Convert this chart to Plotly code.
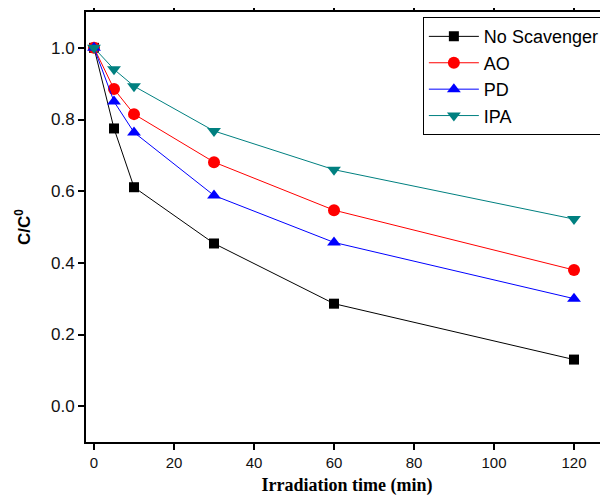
import plotly.graph_objects as go

# irradiation time (min)
time_min = [0, 5, 10, 30, 60, 120]

# C/C0 for each scavenger run
no_scavenger = [1.0, 0.775, 0.611, 0.454, 0.286, 0.130]
ao = [1.0, 0.885, 0.815, 0.681, 0.547, 0.380]
pd_vals = [1.0, 0.850, 0.764, 0.588, 0.457, 0.300]
ipa = [1.0, 0.940, 0.893, 0.768, 0.660, 0.522]

series_names = ["No Scavenger", "AO", "PD", "IPA"]
series_vals = [no_scavenger, ao, pd_vals, ipa]
colors = ["#000000", "#ff0000", "#0000ff", "#008080"]
symbols = ["square", "circle", "triangle-up", "triangle-down"]
sizes = [10, 12, 12, 12]

fig = go.Figure()

for name, vals, c, sym, sz in zip(series_names, series_vals, colors, symbols, sizes):
    fig.add_trace(go.Scatter(x=time_min,
                             y=vals,
                             mode="lines+markers",
                             name=name,
                             line=dict(color=c, width=1),
                             marker=dict(symbol=sym, size=sz, color=c)))

axis_common = dict(showline=True,
                   linecolor="black",
                   linewidth=2,
                   mirror="ticks",
                   ticks="outside",
                   ticklen=6,
                   tickwidth=2,
                   tickcolor="black",
                   showgrid=False,
                   zeroline=False,
                   automargin=False)

# page body adds 8px, so the figure is sized 8px smaller
fig.update_layout(
    width=600,
    height=488,
    margin=dict(l=78, r=0, t=4, b=54),
    plot_bgcolor="white",
    paper_bgcolor="white",
    showlegend=True,
    legend=dict(x=0.994, y=0.988,
                xanchor="right", yanchor="top",
                bordercolor="black", borderwidth=1,
                bgcolor="white",
                itemwidth=50,
                tracegroupgap=0,
                font=dict(family="Liberation Sans, Arial", size=18, color="black")),
    xaxis=dict(axis_common,
               range=[-2, 128.5],
               tickvals=[0, 20, 40, 60, 80, 100, 120],
               tickfont=dict(family="Liberation Sans, Arial", size=15, color="#111111"),
               title=dict(text="<b>Irradiation time (min)</b>",
                          font=dict(family="Liberation Serif, Times New Roman", size=18, color="black"),
                          standoff=8)),
    yaxis=dict(axis_common,
               range=[-0.1, 1.1],
               tickvals=[0.0, 0.2, 0.4, 0.6, 0.8, 1.0],
               tickformat=".1f",
               tickfont=dict(family="Liberation Sans, Arial", size=17, color="#111111"),
               title=dict(text="<b>C/C<sup>0</sup></b>",
                          font=dict(family="Liberation Sans, Arial", size=17, color="black"),
                          standoff=16)),
)

fig.write_html("out.html")
